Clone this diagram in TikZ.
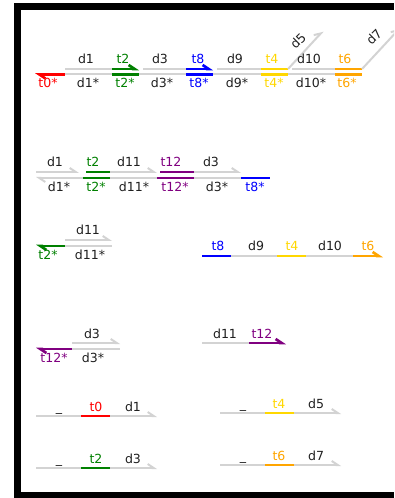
\documentclass[tikz,border=0pt]{standalone}
\usepackage{fontspec}
\setmainfont{DejaVu Sans}
\usetikzlibrary{arrows.meta}
\definecolor{strand}{HTML}{D3D3D3}
\definecolor{cgreen}{HTML}{008000}
\definecolor{cgold}{HTML}{FFD700}
\definecolor{corange}{HTML}{FFA500}
\definecolor{cpurple}{HTML}{800080}
\definecolor{cblue}{HTML}{0000FF}
\definecolor{cred}{HTML}{FF0000}
\definecolor{ink}{HTML}{202020}
\newcommand\strandseg[5]{%
  \coordinate (#1-s) at (#2,#4);
  \coordinate (#1-e) at (#3,#4);
  \draw[#5] (#1-s) -- (#1-e);}
\begin{document}
\begin{tikzpicture}[x=0.75pt,y=-0.75pt,
  gr/.style={line width=1.5pt, draw=strand},
  dm/.style={line width=2pt, draw=#1},
  tip/.style={-{Straight Barb[harpoon,length=4.5pt,width=6pt]}},
  lab/.style={font=\fontsize{9.4}{10}\selectfont, text=#1, inner sep=0pt, anchor=base},
  lab/.default=ink]
\useasboundingbox (0,0) rectangle (394,498);
\clip (0,0) rectangle (394,498);
% frame
\fill[black] (14,3) rectangle (21,498);
\fill[black] (14,3) rectangle (394,10);
\fill[black] (14,492) rectangle (394,498);

% ---------- row 1 ----------
\strandseg{a1}{65}{112}{69}{gr}
\strandseg{a2}{112}{139}{69}{dm=cgreen,tip}
\strandseg{a3}{143}{186}{69}{gr}
\strandseg{a4}{186}{213}{69}{dm=cblue,tip}
\strandseg{a5}{217}{261}{69}{gr}
\strandseg{a6}{261}{288}{69}{dm=cgold}
\strandseg{a7}{292}{335}{69}{gr}
\strandseg{a8}{335}{362}{69}{dm=corange}
\coordinate (d5e) at (323,31);
\draw[gr,tip] (a6-e) -- (d5e);
\coordinate (d7e) at (400,28);
\draw[gr,tip] (a8-e) -- (d7e);
\strandseg{b0}{65}{35}{74.5}{dm=cred,tip}
\strandseg{b1}{65}{112}{74.5}{gr}
\strandseg{b2}{112}{139}{74.5}{dm=cgreen}
\strandseg{b3}{139}{186}{74.5}{gr}
\strandseg{b4}{186}{213}{74.5}{dm=cblue}
\strandseg{b5}{213}{261}{74.5}{gr}
\strandseg{b6}{261}{288}{74.5}{dm=cgold}
\strandseg{b7}{288}{335}{74.5}{gr}
\strandseg{b8}{335}{362}{74.5}{dm=corange}
\node[lab] (la1) at (86,64) {d1};
\node[lab=cgreen] (la2) at (123,64) {t2};
\node[lab] (la3) at (160,64) {d3};
\node[lab=cblue] (la4) at (198,64) {t8};
\node[lab] (la5) at (235,64) {d9};
\node[lab=cgold] (la6) at (272,64) {t4};
\node[lab] (la7) at (309,64) {d10};
\node[lab=corange] (la8) at (345,64) {t6};
\node[lab=cred] (lb0) at (48,88) {t0*};
\node[lab] (lb1) at (88,88) {d1*};
\node[lab=cgreen] (lb2) at (125,88) {t2*};
\node[lab] (lb3) at (162,88) {d3*};
\node[lab=cblue] (lb4) at (199,88) {t8*};
\node[lab] (lb5) at (237,88) {d9*};
\node[lab=cgold] (lb6) at (274,88) {t4*};
\node[lab] (lb7) at (311,88) {d10*};
\node[lab=corange] (lb8) at (347,88) {t6*};
\node[lab, anchor=center, rotate=45] (ld5) at (298,41) {d5};
\node[lab, anchor=center, rotate=45] (ld7) at (374,37) {d7};

% ---------- row 2 ----------
\strandseg{c1}{36}{79}{172}{gr,tip}
\strandseg{c2}{86}{110}{172}{dm=cgreen}
\strandseg{c3}{110}{157}{172}{gr,tip}
\strandseg{c4}{160}{194}{172}{dm=cpurple}
\strandseg{c5}{194}{241}{172}{gr,tip}
\strandseg{e1}{83}{36}{178}{gr,tip}
\strandseg{e2}{83}{110}{178}{dm=cgreen}
\strandseg{e3}{110}{157}{178}{gr}
\strandseg{e4}{157}{194}{178}{dm=cpurple}
\strandseg{e5}{194}{241}{178}{gr}
\strandseg{e6}{241}{270}{178}{dm=cblue}
\node[lab] (lc1) at (55,167) {d1};
\node[lab=cgreen] (lc2) at (93,167) {t2};
\node[lab] (lc3) at (129,167) {d11};
\node[lab=cpurple] (lc4) at (171,167) {t12};
\node[lab] (lc5) at (211,167) {d3};
\node[lab] (le1) at (59,192) {d1*};
\node[lab=cgreen] (le2) at (96,192) {t2*};
\node[lab] (le3) at (134,192) {d11*};
\node[lab=cpurple] (le4) at (175,192) {t12*};
\node[lab] (le5) at (217,192) {d3*};
\node[lab=cblue] (le6) at (255,192) {t8*};

% ---------- row 3 left ----------
\strandseg{f1}{65}{112}{240}{gr,tip}
\strandseg{g0}{65}{36}{246}{dm=cgreen,tip}
\strandseg{g1}{65}{112}{246}{gr}
\node[lab] (lf1) at (88,235) {d11};
\node[lab=cgreen] (lg0) at (48,259) {t2*};
\node[lab] (lg1) at (90,259) {d11*};

% ---------- row 3 right ----------
\strandseg{h1}{202}{231}{256}{dm=cblue}
\strandseg{h2}{231}{277}{256}{gr}
\strandseg{h3}{277}{306}{256}{dm=cgold}
\strandseg{h4}{306}{353}{256}{gr}
\strandseg{h5}{353}{383}{256}{dm=corange,tip}
\node[lab=cblue] (lh1) at (218,251) {t8};
\node[lab] (lh2) at (256,251) {d9};
\node[lab=cgold] (lh3) at (292,251) {t4};
\node[lab] (lh4) at (330,251) {d10};
\node[lab=corange] (lh5) at (368,251) {t6};

% ---------- row 4 left ----------
\strandseg{i1}{72}{120}{343}{gr,tip}
\strandseg{j0}{72}{36}{349}{dm=cpurple,tip}
\strandseg{j1}{72}{120}{349}{gr}
\node[lab] (li1) at (92,338) {d3};
\node[lab=cpurple] (lj0) at (54,362) {t12*};
\node[lab] (lj1) at (93,362) {d3*};

% ---------- row 4 right ----------
\strandseg{k1}{202}{249}{343}{gr}
\strandseg{k2}{249}{286}{343}{dm=cpurple,tip}
\node[lab] (lk1) at (225,338) {d11};
\node[lab=cpurple] (lk2) at (262,338) {t12};

% ---------- row 5 ----------
\strandseg{m1}{36}{81}{416}{gr}
\strandseg{m2}{81}{110}{416}{dm=cred}
\strandseg{m3}{110}{157}{416}{gr,tip}
\node[lab] (lm1) at (59,411) {\_};
\node[lab=cred] (lm2) at (96,411) {t0};
\node[lab] (lm3) at (133,411) {d1};
\strandseg{n1}{220}{265}{413}{gr}
\strandseg{n2}{265}{294}{413}{dm=cgold}
\strandseg{n3}{294}{341}{413}{gr,tip}
\node[lab] (ln1) at (243,408) {\_};
\node[lab=cgold] (ln2) at (279,408) {t4};
\node[lab] (ln3) at (316,408) {d5};

% ---------- row 6 ----------
\strandseg{p1}{36}{81}{468}{gr}
\strandseg{p2}{81}{110}{468}{dm=cgreen}
\strandseg{p3}{110}{157}{468}{gr,tip}
\node[lab] (lp1) at (59,463) {\_};
\node[lab=cgreen] (lp2) at (96,463) {t2};
\node[lab] (lp3) at (133,463) {d3};
\strandseg{q1}{220}{265}{465}{gr}
\strandseg{q2}{265}{294}{465}{dm=corange}
\strandseg{q3}{294}{341}{465}{gr,tip}
\node[lab] (lq1) at (243,460) {\_};
\node[lab=corange] (lq2) at (279,460) {t6};
\node[lab] (lq3) at (316,460) {d7};
\end{tikzpicture}
\end{document}
